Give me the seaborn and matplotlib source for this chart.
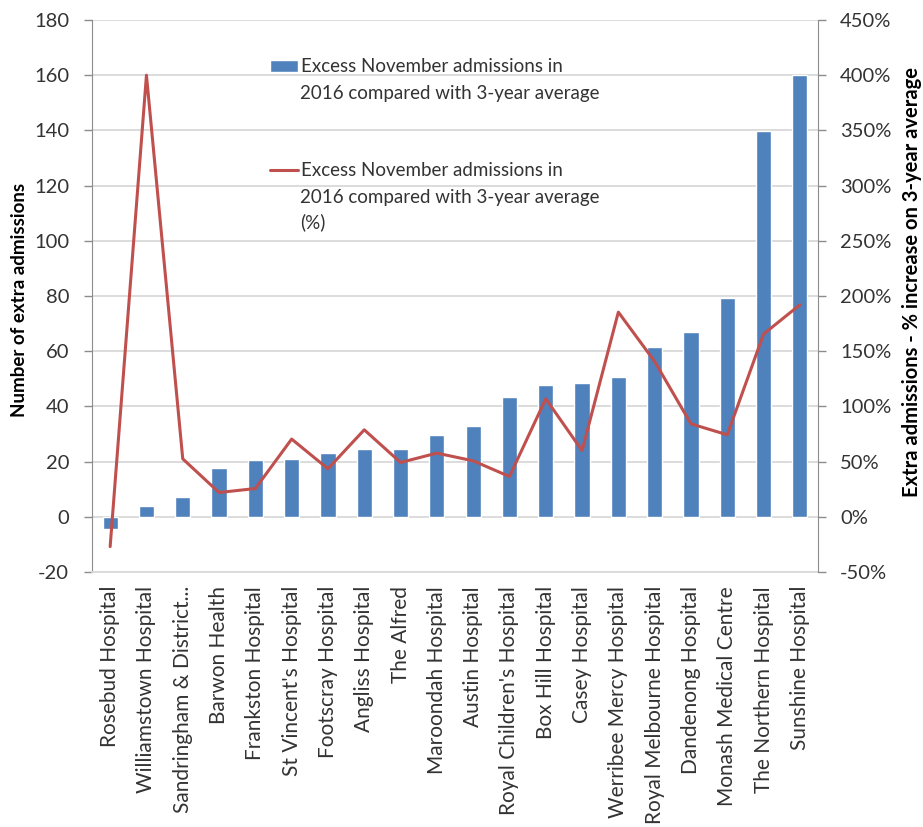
import numpy as np
import pandas as pd
import matplotlib
matplotlib.use("Agg")
import matplotlib.pyplot as plt
import seaborn as sns
from matplotlib.ticker import FuncFormatter, MultipleLocator

hospitals = [
    "Rosebud Hospital", "Williamstown Hospital", "Sandringham & District...",
    "Barwon Health", "Frankston Hospital", "St Vincent's Hospital",
    "Footscray Hospital", "Angliss Hospital", "The Alfred", "Maroondah Hospital",
    "Austin Hospital", "Royal Children's Hospital", "Box Hill Hospital",
    "Casey Hospital", "Werribee Mercy Hospital", "Royal Melbourne Hospital",
    "Dandenong Hospital", "Monash Medical Centre", "The Northern Hospital",
    "Sunshine Hospital",
]
excess_admissions = [-4.5, 4.0, 7.2, 17.5, 20.4, 21.0, 23.1, 24.4, 24.4, 29.8,
                     33.0, 43.4, 47.8, 48.4, 50.7, 61.5, 66.8, 79.1, 139.9, 160.1]
excess_pct = [-27, 400, 52.5, 22, 25.6, 70.4, 43.5, 78.8, 49.2, 57.7,
              50.7, 36.5, 106.9, 60, 185.4, 140.7, 84.2, 74.3, 165.5, 192]

bar_label_lines = ["Excess November admissions in",
                   "2016 compared with 3-year average"]
line_label_lines = ["Excess November admissions in",
                    "2016 compared with 3-year average", "(%)"]

df = pd.DataFrame({"hospital": hospitals, "admissions": excess_admissions,
                   "pct": excess_pct, "pos": np.arange(len(hospitals))})

sns.set_style("white")
plt.rcParams["font.family"] = ["Lato", "DejaVu Sans"]
plt.rcParams["axes.unicode_minus"] = False
text_col = "#333333"
grid_col = "#d9d9d9"
spine_col = "#8c8c8c"
W, H = 923, 827

fig = plt.figure(figsize=(W / 100, H / 100), dpi=100)
ax = fig.add_axes([92 / W, 1 - 572 / H, (818 - 92) / W, (572 - 20) / H])

sns.barplot(data=df, x="hospital", y="admissions", color="#4f81bd",
            width=0.42, ax=ax, saturation=1)
ax.set_xlim(-0.5, len(hospitals) - 0.5)
ax.set_ylim(-20, 180)
ax.yaxis.set_major_locator(MultipleLocator(20))
ax.grid(axis="y", color=grid_col, lw=1.3)
ax.set_axisbelow(True)
ax.set_xlabel("")
ax.set_ylabel("Number of extra admissions", fontsize=13.5, fontweight="bold",
              color="black")
ax.yaxis.set_label_coords((28 - 92) / (818 - 92), (572 - 300) / (572 - 20))
ax.tick_params(axis="y", labelsize=14.5, colors=spine_col, labelcolor=text_col,
               length=6, width=1, direction="out", left=True, pad=10.5)
ax.tick_params(axis="x", labelsize=15, labelcolor=text_col, length=0, pad=10)
for lbl in ax.get_xticklabels():
    lbl.set_rotation(90)
for s in ["top", "right"]:
    ax.spines[s].set_visible(False)
ax.spines["left"].set_color(spine_col)
ax.spines["bottom"].set_color(grid_col)
ax.spines["bottom"].set_linewidth(1.3)

ax2 = ax.twinx()
sns.lineplot(data=df, x="pos", y="pct", color="#c0504d", lw=2.2, ax=ax2,
             legend=False)
ax2.set_ylim(-50, 450)
ax2.set_xlim(-0.5, len(hospitals) - 0.5)
ax2.yaxis.set_major_locator(MultipleLocator(50))
ax2.yaxis.set_major_formatter(FuncFormatter(lambda v, p: f"{v:.0f}%"))
ax2.set_ylabel("Extra admissions - % increase on 3-year average", fontsize=14.5,
               fontweight="bold", color="black")
ax2.yaxis.set_label_coords((902 - 92) / (818 - 92), (572 - 282) / (572 - 20))
ax2.set_xlabel("")
ax2.tick_params(axis="y", labelsize=14.5, colors=spine_col, labelcolor=text_col,
                length=6, width=1, direction="out", right=True, pad=10)
for s in ["top", "left", "bottom"]:
    ax2.spines[s].set_visible(False)
ax2.spines["right"].set_color(spine_col)

# legend: handles from the drawn artists, first line as label, rest as text
bar_handle = ax.patches[0]
line_handle = ax2.get_lines()[0]
leg_kw = dict(loc="center left", bbox_transform=fig.transFigure, frameon=False,
              fontsize=13.5, handlelength=1.5, handleheight=0.55,
              handletextpad=0.17, borderaxespad=0, borderpad=0)
leg1 = ax2.legend([bar_handle], [bar_label_lines[0]],
                  bbox_to_anchor=(270 / W, 1 - 67 / H), **leg_kw)
for t in leg1.get_texts():
    t.set_color(text_col)
ax2.add_artist(leg1)
leg2 = ax2.legend([line_handle], [line_label_lines[0]],
                  bbox_to_anchor=(270 / W, 1 - 171 / H), **leg_kw)
for t in leg2.get_texts():
    t.set_color(text_col)

for txt, yy in [(bar_label_lines[1], 93), (line_label_lines[1], 197),
                (line_label_lines[2], 222)]:
    fig.text(300 / W, 1 - yy / H, txt, fontsize=13.5, color=text_col,
             ha="left", va="center")

fig.savefig("out.png", dpi=100)
